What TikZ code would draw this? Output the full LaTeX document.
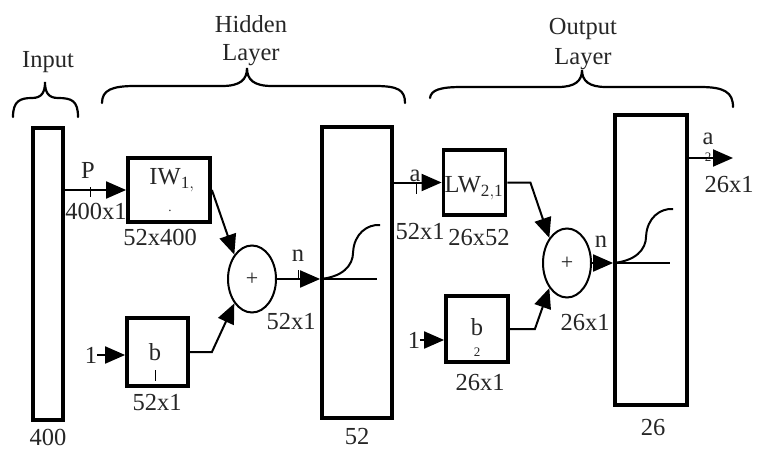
\documentclass[tikz,border=0pt]{standalone}
\usepackage{fontspec}
\setmainfont{Liberation Serif}
\usetikzlibrary{arrows.meta,shapes.geometric}
\begin{document}
\begin{tikzpicture}[x=1pt,y=-1pt,
  txt/.style={font=\fontsize{24.5}{28}\selectfont, text=black!85, inner sep=0pt},
  sub/.style={font=\fontsize{13}{14}\selectfont, text=black!85, inner sep=0pt},
  blk/.style={draw, line width=3.8pt, inner sep=0pt},
  sumnode/.style={draw, ellipse, line width=2pt, inner sep=0pt, font=\fontsize{22}{24}\selectfont, text=black!85},
  arr/.style={-{Triangle[length=20pt,width=17pt]}, line width=2pt},
  wire/.style={line width=2pt},
  brc/.style={line width=2.2pt, line cap=round},
  tick/.style={line width=1pt}]
\useasboundingbox (0,0) rectangle (759,449);
% blocks
\node[blk, minimum width=30pt, minimum height=292pt] (inbox) at (48,274) {};
\node[blk, minimum width=82pt, minimum height=64pt] (IW) at (169,190) {};
\node[blk, minimum width=61pt, minimum height=68pt] (b1) at (157.5,352) {};
\node[sumnode, minimum width=48pt, minimum height=67pt] (sum1) at (252,279) {+};
\node[blk, minimum width=70pt, minimum height=291pt] (hid) at (357,272.5) {};
\node[blk, minimum width=62pt, minimum height=65pt] (LW) at (474.5,182.5) {};
\node[blk, minimum width=62pt, minimum height=66pt] (b2) at (477,329) {};
\node[sumnode, minimum width=48pt, minimum height=69pt] (sum2) at (567,263) {+};
\node[blk, minimum width=72pt, minimum height=290pt] (outbox) at (651,260) {};
% texts in blocks
\node[txt] (IWt) at (172,180) {IW$_{\mathrm{1,}}$};
\node[sub] (IWd) at (170,211) {.};
\node[txt] (LWt) at (474,188) {LW$_{\mathrm{2,1}}$};
\node[txt] (b1t) at (155,352) {b};
\node[txt] (b2t) at (477,327) {b};
\node[sub] (b2s) at (477,352) {2};
% inputs "1"
\node[txt] (one1) at (91,355) {1};
\node[txt] (one2) at (414,340) {1};
% connectors
\draw[arr] (inbox.east |- IW.west) -- (IW.west);
\draw[arr] (IW.east) -- (sum1.north west);
\draw[arr] (b1.east) -- ++(22,0) -- (sum1.south west);
\draw[arr] (one1.east) -- (b1.west |- one1.east);
\draw[arr] (sum1.east) -- (hid.west |- sum1.east);
\draw[arr] (hid.east |- LW.west) -- (LW.west);
\draw[arr] (LW.east) -- ++(23,0) -- (sum2.north west);
\draw[arr] (b2.east) -- ++(25,0) -- (sum2.south west);
\draw[arr] (one2.east) -- (b2.west |- one2.east);
\draw[arr] (sum2.east) -- (outbox.west |- sum2.east);
\coordinate (aout) at (733,158);
\draw[arr] (outbox.east |- aout) -- (aout);
% transfer functions
\draw[wire] (hid.west |- sum1.east) -- ++(57,0);
\draw[wire] (hid.west |- sum1.east) .. controls +(22,-2) and +(0,14) .. ++(33,-27) .. controls +(1,-18) and +(-13,-1) .. ++(27,-27);
\draw[wire] (outbox.west |- sum2.east) -- ++(57,0);
\draw[wire] (outbox.west |- sum2.east) .. controls +(22,-2) and +(0,14) .. ++(33,-27) .. controls +(1,-18) and +(-13,-1) .. ++(27,-27);
% ticks (clipped subscripts)
\draw[tick] (90,187) -- (90,197);
\draw[tick] (298,270) -- (298,280);
\draw[tick] (155,370) -- (155,381);
\draw[tick] (416,184) -- (416,194);
\node[sub] (a2s) at (708,157) {2};
% labels
\node[txt] (P) at (88,170) {P};
\node[txt] (Pd) at (96,211) {400x1};
\node[txt] (IWd2) at (160,237) {52x400};
\node[txt] (n1) at (298,256) {n};
\node[txt] (s1d) at (291,322) {52x1};
\node[txt] (b1d) at (157,403) {52x1};
\node[txt] (l400) at (48,437) {400};
\node[txt] (l52) at (357,437) {52};
\node[txt] (a1) at (415,176) {a};
\node[txt] (a1d) at (420,232) {52x1};
\node[txt] (LWd) at (479,238) {26x52};
\node[txt] (n2) at (601,242) {n};
\node[txt] (s2d) at (585,323) {26x1};
\node[txt] (b2d) at (480,383) {26x1};
\node[txt] (l26) at (653,428) {26};
\node[txt] (a2) at (708,139) {a};
\node[txt] (a2d) at (729,185) {26x1};
% braces
\draw[brc] (13,117) .. controls (13,101) and (20,98) .. (32,98) .. controls (42,98) and (45,92) .. (45,82)
  .. controls (45,92) and (48,98) .. (58,98) .. controls (72,98) and (78,101) .. (78,117);
\node[txt] (inputlbl) at (48,62) {Input};
\draw[brc] (102,103) .. controls (102,90) and (112,86) .. (135,86) -- (222,86) .. controls (240,86) and (247,80) .. (247,68)
  .. controls (247,80) and (254,86) .. (272,86) -- (375,86) .. controls (398,86) and (405,90) .. (405,103);
\node[txt] (hidlbl1) at (251,24) {Hidden};
\node[txt] (hidlbl2) at (251,55) {Layer};
\draw[brc] (430,98) .. controls (431,90) and (440,87) .. (462,87) -- (558,87) .. controls (575,87) and (582,81) .. (582,70)
  .. controls (582,81) and (589,87) .. (606,87) -- (700,87) .. controls (724,87) and (733,92) .. (733,107);
\node[txt] (outlbl1) at (583,29) {Output};
\node[txt] (outlbl2) at (583,59) {Layer};
\end{tikzpicture}
\end{document}
